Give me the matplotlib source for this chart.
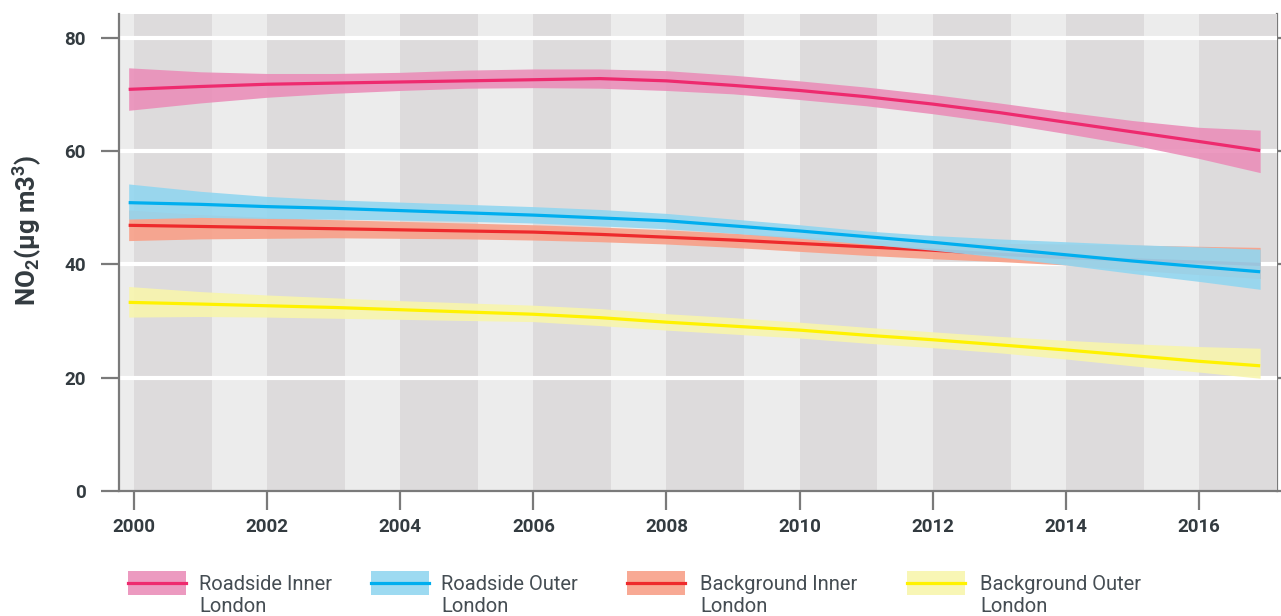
import matplotlib
matplotlib.use("Agg")
import matplotlib.pyplot as plt
from matplotlib.patches import Rectangle
from matplotlib.lines import Line2D

plt.rcParams['font.family'] = ['Roboto', 'DejaVu Sans']
plt.rcParams['mathtext.default'] = 'regular'

# ---------------- data ----------------
years = [1999.92, 2001, 2002, 2003, 2004, 2005, 2006, 2007, 2008,
         2009, 2010, 2011, 2012, 2013, 2014, 2015, 2016, 2016.92]

roadside_inner = [70.9, 71.4, 71.8, 72.0, 72.2, 72.4, 72.6, 72.8, 72.4,
                  71.6, 70.7, 69.6, 68.3, 66.8, 65.1, 63.4, 61.7, 60.1]
roadside_inner_hi = [74.7, 74.0, 73.7, 73.7, 73.9, 74.3, 74.5, 74.5, 74.2,
                     73.4, 72.4, 71.3, 70.0, 68.5, 66.9, 65.4, 64.2, 63.7]
roadside_inner_lo = [67.2, 68.5, 69.5, 70.2, 70.7, 71.1, 71.2, 71.1, 70.7,
                     70.1, 69.1, 68.0, 66.6, 65.0, 63.1, 61.1, 58.7, 56.2]

roadside_outer = [50.9, 50.6, 50.2, 49.9, 49.5, 49.1, 48.7, 48.2, 47.7,
                  46.8, 45.9, 44.9, 43.9, 42.8, 41.7, 40.6, 39.6, 38.7]
roadside_outer_hi = [54.2, 52.9, 52.0, 51.4, 51.0, 50.6, 50.2, 49.7, 49.0,
                     48.0, 47.0, 45.9, 45.1, 44.5, 44.0, 43.5, 43.1, 42.7]
roadside_outer_lo = [48.0, 48.3, 48.1, 48.0, 47.8, 47.6, 47.3, 46.8, 46.3,
                     45.5, 44.6, 43.6, 42.5, 41.3, 39.9, 38.4, 37.0, 35.6]

background_inner = [46.9, 46.7, 46.5, 46.3, 46.1, 45.9, 45.7, 45.3, 44.8,
                    44.3, 43.7, 43.1, 42.5, 41.8, 41.2, 40.8, 40.4, 40.0]
background_inner_hi = [49.6, 48.8, 48.3, 47.9, 47.6, 47.3, 47.0, 46.6, 46.1,
                       45.5, 44.9, 44.3, 43.9, 43.7, 43.6, 43.4, 43.2, 43.0]
background_inner_lo = [44.2, 44.5, 44.6, 44.7, 44.6, 44.5, 44.3, 44.0, 43.6,
                       43.0, 42.3, 41.6, 41.0, 40.5, 39.9, 39.0, 38.2, 37.5]

background_outer = [33.3, 33.0, 32.7, 32.4, 32.0, 31.6, 31.2, 30.6, 29.8,
                    29.1, 28.4, 27.5, 26.7, 25.8, 24.9, 23.9, 22.9, 22.1]
background_outer_hi = [36.1, 35.2, 34.6, 34.1, 33.6, 33.2, 32.8, 32.2, 31.3,
                       30.6, 29.8, 28.9, 28.1, 27.3, 26.6, 26.0, 25.5, 25.2]
background_outer_lo = [30.7, 30.8, 30.7, 30.5, 30.3, 30.1, 29.9, 29.2, 28.4,
                       27.7, 27.0, 26.1, 25.3, 24.4, 23.3, 22.1, 21.0, 19.9]

labels = ["Roadside Inner\nLondon", "Roadside Outer\nLondon",
          "Background Inner\nLondon", "Background Outer\nLondon"]
x_ticks = [2000, 2002, 2004, 2006, 2008, 2010, 2012, 2014, 2016]
y_ticks = [0, 20, 40, 60, 80]

# ---------------- style ----------------
line_colors = ['#ee2a6e', '#00aeef', '#ee2a2c', '#fff200']
band_colors = ['#ea8fb9', '#92d6f0', '#f8a088', '#f8f5ad']
band_alpha = 0.9
axis_gray = '#7a7a7a'
text_dark = '#333b40'
legend_text = '#454d53'

W, H = 1281, 616
fig = plt.figure(figsize=(W / 100, H / 100), dpi=100)
ax = fig.add_axes([119 / W, 1 - 491 / H, (1277 - 119) / W, (491 - 14) / H])
ax.set_xlim(1999.775, 2017.173)
ax.set_ylim(0, 84.2)
ax.set_facecolor('#ececec')

# alternating vertical stripes
for start in range(2000, 2017, 2):
    ax.axvspan(start, start + 1.17, color='#dddbdc', lw=0, zorder=0.1)

# horizontal white grid
for yv in y_ticks[1:]:
    ax.axhline(yv, color='white', lw=3.0, zorder=0.5)

series = [
    (roadside_inner, roadside_inner_lo, roadside_inner_hi),
    (roadside_outer, roadside_outer_lo, roadside_outer_hi),
    (background_inner, background_inner_lo, background_inner_hi),
    (background_outer, background_outer_lo, background_outer_hi),
]
band_z = [2, 4, 2, 2]
line_z = [6, 6, 3, 6]
for i, (mid, lo, hi) in enumerate(series):
    ax.fill_between(years, lo, hi, color=band_colors[i], alpha=band_alpha,
                    lw=0, zorder=band_z[i])
    ax.plot(years, mid, color=line_colors[i], lw=2.3, zorder=line_z[i],
            solid_capstyle='butt')

# axes / ticks
for s in ['top', 'right']:
    ax.spines[s].set_visible(False)
for s in ['left', 'bottom']:
    ax.spines[s].set_color(axis_gray)
    ax.spines[s].set_linewidth(1.6)
    ax.spines[s].set_zorder(7)

ax.set_xticks(x_ticks)
ax.set_xticklabels([str(t) for t in x_ticks])
ax.set_yticks(y_ticks)
ax.set_yticklabels([str(t) for t in y_ticks])
ax.tick_params(axis='x', length=13.5, width=1.6, color=axis_gray, pad=6,
               labelsize=13.5, labelcolor=text_dark)
ax.tick_params(axis='y', length=13, width=1.6, color=axis_gray, pad=11,
               labelsize=13.5, labelcolor=text_dark)
for lab in ax.get_xticklabels() + ax.get_yticklabels():
    lab.set_fontweight('bold')

sec = ax.secondary_yaxis('right')
sec.set_yticks(y_ticks)
sec.tick_params(length=4, width=1.6, color=axis_gray, labelright=False)
sec.spines['right'].set_color(axis_gray)
sec.spines['right'].set_linewidth(1.6)

fig.text(27 / W, 1 - 230 / H, r"NO$_2$(µg m3$^3$)", rotation=90,
         ha='center', va='center', fontsize=18.5, fontweight='bold',
         color=text_dark)

# legend drawn manually
patch_x = [128, 371, 627, 907]
text_x = [199, 441, 700, 980]
for i in range(4):
    x0 = patch_x[i]
    fig.patches.append(Rectangle((x0 / W, 1 - 595 / H), 58 / W, 24 / H,
                                 transform=fig.transFigure,
                                 facecolor=band_colors[i], alpha=band_alpha,
                                 lw=0))
    fig.lines.append(Line2D([x0 / W, (x0 + 58) / W], [1 - 583 / H, 1 - 583 / H],
                            transform=fig.transFigure, color=line_colors[i],
                            lw=2.3))
    l1, l2 = labels[i].split('\n')
    fig.text(text_x[i] / W, 1 - 590 / H, l1, ha='left', va='baseline',
             fontsize=14.5, color=legend_text)
    fig.text(text_x[i] / W, 1 - 612 / H, l2, ha='left', va='baseline',
             fontsize=14.5, color=legend_text)

fig.savefig('out.png', dpi=100)
